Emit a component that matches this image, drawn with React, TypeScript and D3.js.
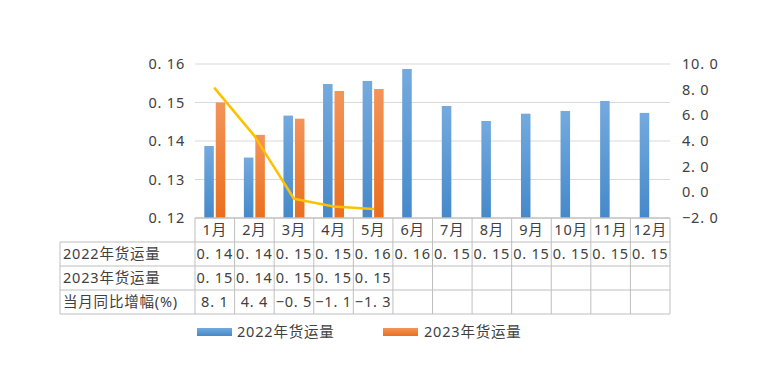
import React from "react";
import * as d3 from "d3";

// chart data
const months = ["1月", "2月", "3月", "4月", "5月", "6月", "7月", "8月", "9月", "10月", "11月", "12月"];
const series = ["2022年货运量", "2023年货运量"];
const freight2022 = [0.1387, 0.1357, 0.1466, 0.1548, 0.1556, 0.1587, 0.1491, 0.1452, 0.1471, 0.1478, 0.1504, 0.1473];
const freight2023 = [0.15, 0.1416, 0.1458, 0.153, 0.1535];
const yoyGrowth = [8.1, 4.4, -0.5, -1.1, -1.3];
const leftTicks = [0.12, 0.13, 0.14, 0.15, 0.16];
const rightTicks = [-2, 0, 2, 4, 6, 8, 10];
const rowLabel3 = "当月同比增幅(%)";

const width = 760,
  height = 365;
const plot = { left: 195, right: 670, top: 64, bottom: 218 };
const rowH = 24;
const labelLeft = 60;
const font = "'Noto Sans', 'Noto Sans CJK SC', sans-serif";
const fontSize = 14.5;
const spacing = 0.8;
const textColor = "#404040";
const lineColor = "#bfbfbf";

// "0.14" -> "0. 14" like the original
const wide = (s: string) => s.replace(".", ". ");

const App: React.FC = () => {
  const x = d3.scaleBand<string>().domain(months).range([plot.left, plot.right]);
  const xs = d3
    .scaleBand<string>()
    .domain(series)
    .range([0, x.bandwidth()])
    .paddingInner(0.17)
    .paddingOuter(0.81);

  const yL = d3.scaleLinear().domain([0.12, 0.16]).range([plot.bottom, plot.top]);
  const yR = d3.scaleLinear().domain([-2, 10]).range([plot.bottom, plot.top]);

  const line = d3
    .line<number>()
    .x((d, i) => x(months[i])! + x.bandwidth() / 2)
    .y((d) => yR(d));

  const fmt2 = d3.format(".2f");
  const fmt1 = d3.format(".1f");

  const tableRows = [
    { label: series[0], values: freight2022.map((v) => wide(fmt2(v))) },
    { label: series[1], values: freight2023.map((v) => wide(fmt2(v))) },
    { label: rowLabel3, values: yoyGrowth.map((v) => wide(fmt1(v))) },
  ];

  const tableTop = plot.bottom;
  const tableBottom = tableTop + rowH * 4;

  return (
    <div style={{ position: "absolute", left: 0, top: 0 }}>
      <svg width={width} height={height} style={{ display: "block", background: "#fff" }}>
        <defs>
          <linearGradient id="gBlue" x1="0" y1="0" x2="0" y2="1">
            <stop offset="0%" stopColor="#74aade" />
            <stop offset="100%" stopColor="#4589ca" />
          </linearGradient>
          <linearGradient id="gOrange" x1="0" y1="0" x2="0" y2="1">
            <stop offset="0%" stopColor="#f39459" />
            <stop offset="100%" stopColor="#ea6f1e" />
          </linearGradient>
        </defs>

        {/* gridlines */}
        {leftTicks.slice(1).map((t) => (
          <line key={t} x1={plot.left} x2={plot.right} y1={yL(t)} y2={yL(t)} stroke="#d9d9d9" strokeWidth={1} />
        ))}

        <g fontFamily={font} fontSize={fontSize} fill={textColor} letterSpacing={spacing}>
          {/* left axis labels */}
          {leftTicks.map((t) => (
            <text key={t} x={185} y={yL(t)} dy="0.35em" textAnchor="end">
              {wide(fmt2(t))}
            </text>
          ))}

          {/* right axis labels */}
          {rightTicks.map((t) => (
            <text key={t} x={682} y={yR(t)} dy="0.35em">
              {wide(fmt1(t))}
            </text>
          ))}
        </g>

        {/* bars */}
        {freight2022.map((v, i) => (
          <rect
            key={"a" + i}
            x={x(months[i])! + xs(series[0])!}
            y={yL(v)}
            width={xs.bandwidth()}
            height={yL(0.12) - yL(v)}
            fill="url(#gBlue)"
          />
        ))}
        {freight2023.map((v, i) => (
          <rect
            key={"b" + i}
            x={x(months[i])! + xs(series[1])!}
            y={yL(v)}
            width={xs.bandwidth()}
            height={yL(0.12) - yL(v)}
            fill="url(#gOrange)"
          />
        ))}

        {/* yoy line */}
        <path
          d={line(yoyGrowth)!}
          fill="none"
          stroke="#ffc000"
          strokeWidth={2.5}
          strokeLinejoin="round"
          strokeLinecap="round"
        />

        {/* data table */}
        <g fontFamily={font} fontSize={fontSize} fill={textColor} letterSpacing={spacing}>
          <line x1={plot.left} x2={plot.right} y1={tableTop} y2={tableTop} stroke={lineColor} strokeWidth={1.5} />
          {[1, 2, 3, 4].map((r) => (
            <line
              key={r}
              x1={labelLeft}
              x2={plot.right}
              y1={tableTop + r * rowH}
              y2={tableTop + r * rowH}
              stroke={lineColor}
            />
          ))}
          <line x1={labelLeft} x2={labelLeft} y1={tableTop + rowH} y2={tableBottom} stroke={lineColor} />
          {months.map((m) => (
            <line key={m} x1={x(m)!} x2={x(m)!} y1={tableTop} y2={tableBottom} stroke={lineColor} />
          ))}
          <line x1={plot.right} x2={plot.right} y1={tableTop} y2={tableBottom} stroke={lineColor} />

          {/* header */}
          {months.map((m) => (
            <text key={m} x={x(m)! + x.bandwidth() / 2} y={tableTop + rowH / 2} dy="0.35em" textAnchor="middle">
              {m}
            </text>
          ))}

          {tableRows.map((row, r) => {
            const cy = tableTop + (r + 1) * rowH + rowH / 2;
            return (
              <g key={r}>
                <text x={63} y={cy} dy="0.35em">
                  {row.label}
                </text>
                {row.values.map((v, i) => (
                  <text key={i} x={x(months[i])! + x.bandwidth() / 2} y={cy} dy="0.35em" textAnchor="middle">
                    {v}
                  </text>
                ))}
              </g>
            );
          })}
        </g>

        {/* legend */}
        <g fontFamily={font} fontSize={fontSize} fill={textColor} letterSpacing={spacing}>
          <rect x={197} y={328} width={35} height={8} fill="url(#gBlue)" />
          <text x={237} y={332} dy="0.35em">
            {series[0]}
          </text>
          <rect x={383} y={328} width={35} height={8} fill="url(#gOrange)" />
          <text x={424} y={332} dy="0.35em">
            {series[1]}
          </text>
        </g>
      </svg>
    </div>
  );
};

export default App;
